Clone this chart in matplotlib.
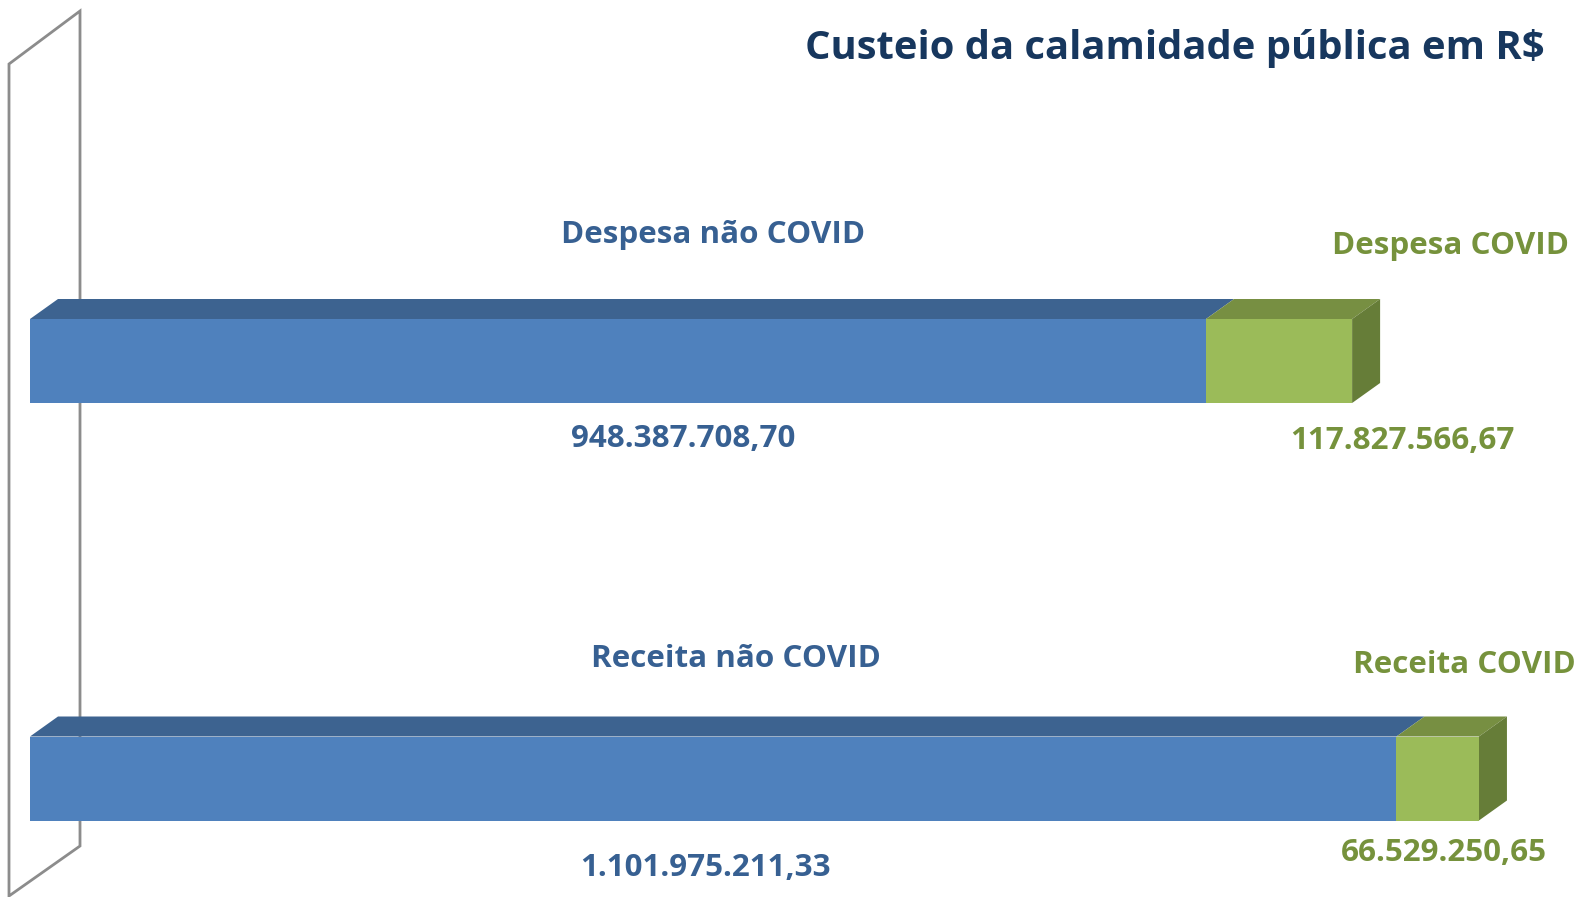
import matplotlib
matplotlib.use("Agg")
import matplotlib.pyplot as plt
from matplotlib.patches import Polygon

# ---- data ----
categories = ["Despesa", "Receita"]
nao_covid = [948387708.70, 1101975211.33]
covid = [117827566.67, 66529250.65]
nao_covid_labels = ["948.387.708,70", "1.101.975.211,33"]
covid_labels = ["117.827.566,67", "66.529.250,65"]
series_names_nao = ["Despesa não COVID", "Receita não COVID"]
series_names_cov = ["Despesa COVID", "Receita COVID"]
title = "Custeio da calamidade pública em R$"

# ---- style ----
W, H, DPI = 1579, 897, 100
FONT = "Open Sans"
blue_front, blue_top = "#4F81BD", "#3D6390"
green_front, green_top, green_side = "#9BBB59", "#778F42", "#667D38"
blue_text, green_text, title_col = "#376092", "#76923C", "#17375E"

fig = plt.figure(figsize=(W / DPI, H / DPI), dpi=DPI)
ax = fig.add_axes([0, 0, 1, 1])
ax.set_axis_off()

px_per_unit = 1.24e-6          # horizontal scale (pixels per R$)
x0_px = 30                      # pixel position of value 0
row_px = 417.5                  # pixels between the two bars
row0_px = 361                   # pixel centre of first bar
ax.set_xlim(-x0_px / px_per_unit, (W - x0_px) / px_per_unit)
ax.set_ylim((H - row0_px) / row_px, -row0_px / row_px)

bar_h = 84 / row_px
ddx = 28 / px_per_unit          # depth offset x (data units)
ddy = -20 / row_px              # depth offset y (data units)

ypos = list(range(len(categories)))

# wall (back/side panel)
wdx = 71 / px_per_unit
wx = -21 / px_per_unit
wall = Polygon([(wx, (H - 1 - row0_px) / row_px), (wx, (64 - row0_px) / row_px),
                (wx + wdx, (11 - row0_px) / row_px), (wx + wdx, (846 - row0_px) / row_px)],
               closed=True, fill=False, edgecolor="#8C8C8C", linewidth=2, zorder=1)
ax.add_patch(wall)

for i, y in enumerate(ypos):
    a = nao_covid[i]
    b = a + covid[i]
    top = y - bar_h / 2
    bot = y + bar_h / 2
    # top faces
    ax.add_patch(Polygon([(0, top), (a, top), (a + ddx, top + ddy), (ddx, top + ddy)],
                         closed=True, facecolor=blue_top, edgecolor="none", zorder=2))
    ax.add_patch(Polygon([(a, top), (b, top), (b + ddx, top + ddy), (a + ddx, top + ddy)],
                         closed=True, facecolor=green_top, edgecolor="none", zorder=2))
    # side face
    ax.add_patch(Polygon([(b, top), (b + ddx, top + ddy), (b + ddx, bot + ddy), (b, bot)],
                         closed=True, facecolor=green_side, edgecolor="none", zorder=2))

ax.barh(ypos, nao_covid, height=bar_h, color=blue_front, zorder=3)
ax.barh(ypos, covid, left=nao_covid, height=bar_h, color=green_front, zorder=3)

def ftext(xp, yp, s, color, size):
    fig.text(xp / W, 1 - yp / H, s, color=color, fontsize=size, fontweight="bold",
             family=FONT, ha="center", va="center")

ftext(1175, 48, title, title_col, 28.8)
name_pos_nao = [(713, 235), (736, 659)]
name_pos_cov = [(1450, 246), (1464, 665)]
val_pos_nao = [(683, 439), (705, 868)]
val_pos_cov = [(1402, 441), (1444, 853)]
for i in range(len(categories)):
    ftext(*name_pos_nao[i], series_names_nao[i], blue_text, 22.6)
    ftext(*name_pos_cov[i], series_names_cov[i], green_text, 22.6)
    ftext(*val_pos_nao[i], nao_covid_labels[i], blue_text, 22.6)
    ftext(*val_pos_cov[i], covid_labels[i], green_text, 22.6)

fig.savefig("out.png", dpi=DPI)
